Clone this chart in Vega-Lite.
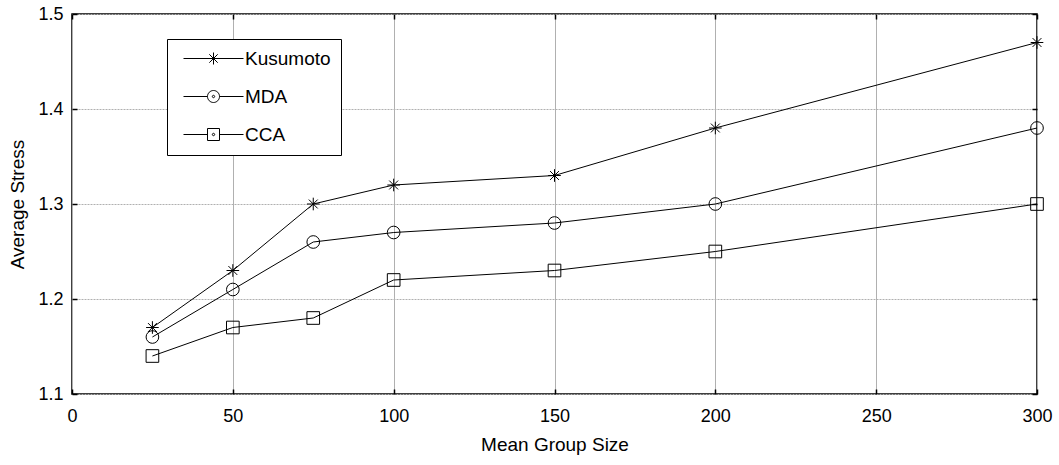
{
  "$schema": "https://vega.github.io/schema/vega-lite/v6.json",
  "width": 965,
  "height": 380,
  "autosize": "none",
  "padding": {"left": 72, "top": 14, "right": 22, "bottom": 71},
  "background": "white",
  "config": {
    "font": "Liberation Sans",
    "view": {"stroke": "black", "strokeWidth": 1.5},
    "axis": {"labelFont": "Liberation Sans", "titleFont": "Liberation Sans", "labelColor": "black", "titleColor": "black", "titleFontWeight": "normal", "domain": false, "tickColor": "black", "tickSize": -5, "tickWidth": 1.5, "gridColor": "#b0b0b0", "gridWidth": 1, "labelFontSize": 18, "titleFontSize": 19, "labelFlush": false},
    "legend": {"labelFont": "Liberation Sans"}
  },
  "data": {"values": [
    {"size": 25, "stress": 1.17, "method": "Kusumoto"},
    {"size": 50, "stress": 1.23, "method": "Kusumoto"},
    {"size": 75, "stress": 1.30, "method": "Kusumoto"},
    {"size": 100, "stress": 1.32, "method": "Kusumoto"},
    {"size": 150, "stress": 1.33, "method": "Kusumoto"},
    {"size": 200, "stress": 1.38, "method": "Kusumoto"},
    {"size": 300, "stress": 1.47, "method": "Kusumoto"},
    {"size": 25, "stress": 1.16, "method": "MDA"},
    {"size": 50, "stress": 1.21, "method": "MDA"},
    {"size": 75, "stress": 1.26, "method": "MDA"},
    {"size": 100, "stress": 1.27, "method": "MDA"},
    {"size": 150, "stress": 1.28, "method": "MDA"},
    {"size": 200, "stress": 1.30, "method": "MDA"},
    {"size": 300, "stress": 1.38, "method": "MDA"},
    {"size": 25, "stress": 1.14, "method": "CCA"},
    {"size": 50, "stress": 1.17, "method": "CCA"},
    {"size": 75, "stress": 1.18, "method": "CCA"},
    {"size": 100, "stress": 1.22, "method": "CCA"},
    {"size": 150, "stress": 1.23, "method": "CCA"},
    {"size": 200, "stress": 1.25, "method": "CCA"},
    {"size": 300, "stress": 1.30, "method": "CCA"}
  ]},
  "resolve": {"axis": {"x": "independent", "y": "independent"}, "scale": {"shape": "independent"}},
  "layer": [
    {
      "mark": {"type": "line", "color": "black", "strokeWidth": 1},
      "encoding": {
        "x": {"field": "size", "type": "quantitative", "scale": {"domain": [0, 300], "nice": false}, "title": "Mean Group Size",
          "axis": {"values": [0, 50, 100, 150, 200, 250, 300], "labelPadding": 18, "titlePadding": 10, "gridDash": [], "labelFlush": false}},
        "y": {"field": "stress", "type": "quantitative", "scale": {"domain": [1.1, 1.5], "nice": false, "zero": false}, "title": "Average Stress",
          "axis": {"values": [1.1, 1.2, 1.3, 1.4, 1.5], "format": ".1f", "labelPadding": 14, "titlePadding": 10, "gridDash": [2, 1], "labelFlush": false}},
        "detail": {"field": "method"}
      }
    },
    {
      "mark": {"type": "point", "filled": false, "color": "black", "strokeWidth": 1, "size": 160, "opacity": 1},
      "encoding": {
        "x": {"field": "size", "type": "quantitative", "axis": {"orient": "top", "labels": false, "title": null, "grid": false, "values": [0, 50, 100, 150, 200, 250, 300]}},
        "y": {"field": "stress", "type": "quantitative", "axis": {"orient": "right", "labels": false, "title": null, "grid": false, "values": [1.1, 1.2, 1.3, 1.4, 1.5]}},
        "shape": {"field": "method", "type": "nominal",
          "scale": {"domain": ["Kusumoto", "MDA", "CCA"], "range": ["M-1,0L1,0M0,-1L0,1M-0.7,-0.7L0.7,0.7M-0.7,0.7L0.7,-0.7", "circle", "square"]},
          "legend": null}
      }
    },
    {
      "mark": {"type": "point", "filled": false, "color": "black", "strokeWidth": 1, "size": 160, "opacity": 0},
      "encoding": {
        "x": {"field": "size", "type": "quantitative", "axis": null},
        "y": {"field": "stress", "type": "quantitative", "axis": null},
        "shape": {"field": "method", "type": "nominal",
          "scale": {"domain": ["Kusumoto", "MDA", "CCA"], "range": ["M-5,0L5,0M0,-1L0,1M-0.7,-0.7L0.7,0.7M-0.7,0.7L0.7,-0.7", "M-5,0L-1,0M1,0L5,0M-1,0A1,1,0,1,0,1,0A1,1,0,1,0,-1,0M-0.2,0A0.2,0.2,0,1,0,0.2,0A0.2,0.2,0,1,0,-0.2,0", "M-5,0L-1,0M1,0L5,0M-1,-1L1,-1L1,1L-1,1ZM-0.2,0A0.2,0.2,0,1,0,0.2,0A0.2,0.2,0,1,0,-0.2,0"]},
          "legend": {"title": null, "orient": "none", "legendX": 95, "legendY": 25, "strokeColor": "black", "fillColor": "white", "padding": 10,
            "labelFontSize": 19, "labelColor": "black", "symbolSize": 144, "symbolStrokeColor": "black", "symbolStrokeWidth": 1, "symbolFillColor": "transparent", "symbolOpacity": 1,
            "symbolOffset": 27, "labelOffset": 22, "rowPadding": 18}
        }
      }
    }
  ]
}
